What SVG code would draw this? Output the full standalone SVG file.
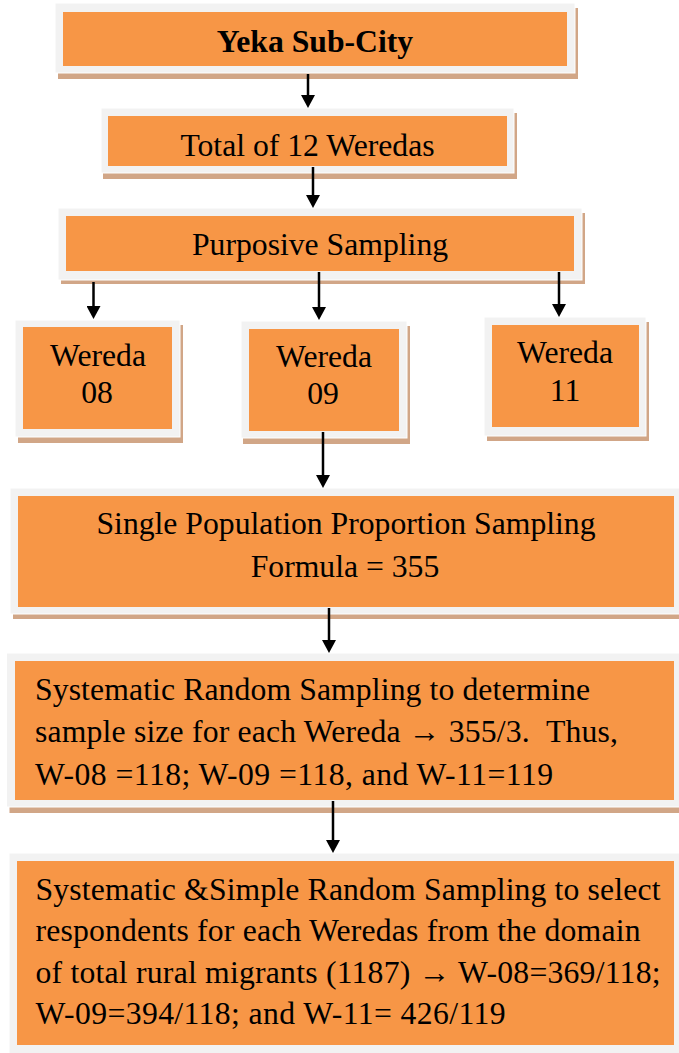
<svg xmlns="http://www.w3.org/2000/svg" width="679" height="1053" viewBox="0 0 679 1053">
<style>
.shadow{fill:#d1a687}
.frame{fill:#f2f2f2;stroke:#ffffff;stroke-width:1}
.inner{fill:#f79646}
text{font-family:"Liberation Serif","Times New Roman",serif;font-size:31.7px;fill:#000}
.c{text-anchor:middle}
.b{font-weight:bold}
.conn{stroke:#000;stroke-width:2.5;fill:none;marker-end:url(#ah)}
</style>
<defs>
<marker id="ah" markerUnits="userSpaceOnUse" markerWidth="14" markerHeight="14" viewBox="0 0 13 14" refX="9" refY="7" orient="auto">
<path d="M0,0 L13,7 L0,14 Z" fill="#000"/>
</marker>
</defs>
<rect width="679" height="1053" fill="#fff"/>

<g id="yeka">
<rect class="shadow" x="58" y="8" width="520" height="71"/>
<rect class="frame" x="55" y="3" width="520" height="70"/>
<rect class="inner" x="63" y="12" width="504" height="54"/>
<text class="c b" x="315" y="52">Yeka Sub-City</text>
</g>

<g id="total">
<rect class="shadow" x="103" y="113" width="414" height="66"/>
<rect class="frame" x="101" y="108" width="413" height="65"/>
<rect class="inner" x="108" y="116" width="399" height="50"/>
<text class="c" x="307.5" y="156">Total of 12 Weredas</text>
</g>

<g id="purposive">
<rect class="shadow" x="61" y="213" width="524" height="71"/>
<rect class="frame" x="58" y="208" width="524" height="72"/>
<rect class="inner" x="66" y="216" width="508" height="55"/>
<text class="c" x="320" y="255">Purposive Sampling</text>
</g>

<g id="w08">
<rect class="shadow" x="18" y="325" width="165" height="118"/>
<rect class="frame" x="15" y="320" width="165" height="117"/>
<rect class="inner" x="23" y="327" width="149" height="102"/>
<text class="c" x="98" y="366">Wereda</text>
<text class="c" x="97" y="403">08</text>
</g>

<g id="w09">
<rect class="shadow" x="243" y="326" width="167" height="118"/>
<rect class="frame" x="241" y="321" width="166" height="117"/>
<rect class="inner" x="249" y="329" width="150" height="102"/>
<text class="c" x="324" y="367">Wereda</text>
<text class="c" x="323" y="404">09</text>
</g>

<g id="w11">
<rect class="shadow" x="487" y="322" width="162" height="119"/>
<rect class="frame" x="484" y="317" width="162" height="119"/>
<rect class="inner" x="492" y="325" width="147" height="102"/>
<text class="c" x="565" y="363">Wereda</text>
<text class="c" x="565" y="401">11</text>
</g>

<g id="single">
<rect class="shadow" x="13" y="493" width="680" height="126"/>
<rect class="frame" x="10" y="488" width="680" height="126"/>
<rect class="inner" x="18" y="496" width="656" height="111"/>
<text class="c" x="346" y="534">Single Population Proportion Sampling</text>
<text class="c" x="345" y="577">Formula = 355</text>
</g>

<g id="systematic">
<rect class="shadow" x="9.5" y="658" width="680" height="155"/>
<rect class="frame" x="6.5" y="653" width="680" height="154"/>
<rect class="inner" x="15" y="661" width="659" height="139"/>
<text x="35" y="700" textLength="555" lengthAdjust="spacing">Systematic Random Sampling to determine</text>
<text x="35" y="742" textLength="583" lengthAdjust="spacing">sample size for each Wereda → 355/3. &#160;Thus,</text>
<text x="35" y="785" textLength="518" lengthAdjust="spacing">W-08 =118; W-09 =118, and W-11=119</text>
</g>

<g id="final">
<rect class="frame" x="9" y="853" width="680" height="210"/>
<rect class="inner" x="17" y="861" width="657" height="184"/>
<text x="35.5" y="900" textLength="625" lengthAdjust="spacing">Systematic &amp;Simple Random Sampling to select</text>
<text x="35.5" y="941" textLength="605" lengthAdjust="spacing">respondents for each Weredas from the domain</text>
<text x="35.5" y="983" textLength="625" lengthAdjust="spacing">of total rural migrants (1187) → W-08=369/118;</text>
<text x="35.5" y="1024" textLength="470" lengthAdjust="spacing">W-09=394/118; and W-11= 426/119</text>
</g>

<g id="connectors">
<path class="conn" d="M308,74 V104"/>
<path class="conn" d="M313,167 V204"/>
<path class="conn" d="M93.5,282 V315"/>
<path class="conn" d="M319,272 V316"/>
<path class="conn" d="M559,272 V313"/>
<path class="conn" d="M323,432 V484"/>
<path class="conn" d="M329,608 V649"/>
<path class="conn" d="M333,801 V849"/>
</g>
</svg>
